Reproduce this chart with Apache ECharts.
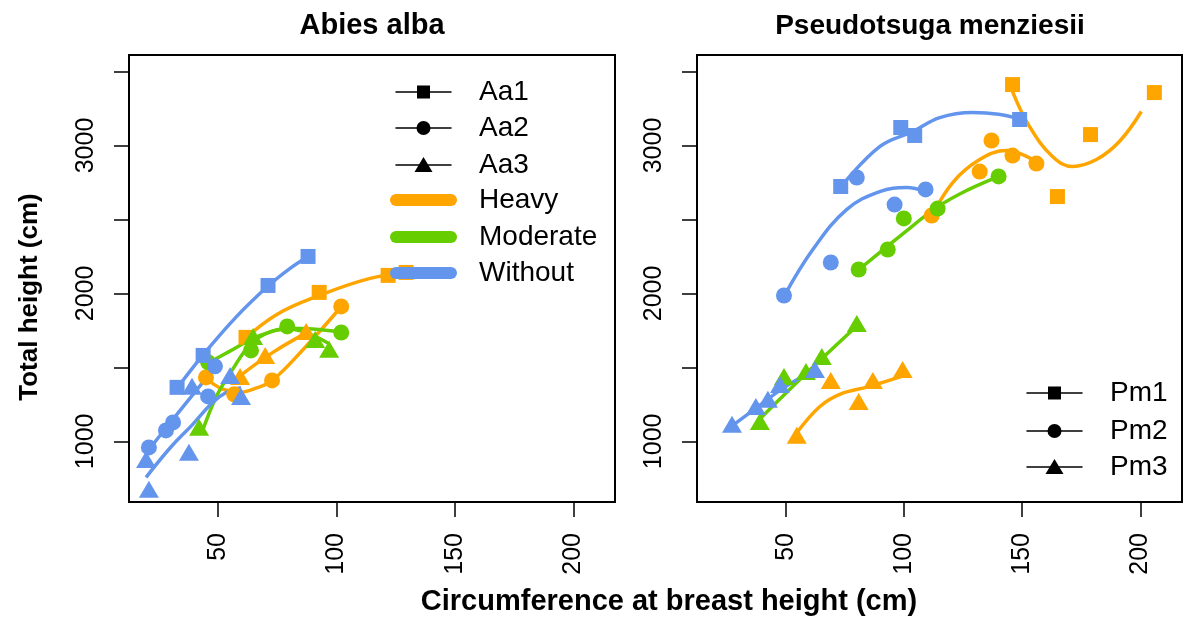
<!DOCTYPE html>
<html>
<head>
    <meta charset="utf-8">
    <script type="text/javascript" src="https://cdn.jsdelivr.net/npm/echarts@6/dist/echarts.min.js"></script>
    <style type="text/css">
        *{
            margin: 0;
            padding: 0;
        }
        #main{
            width: 1184px;
            height: 621px;
        }
    </style>
</head>
<body>
<div id="main"></div>
<script type="text/javascript">
    // tick positions
    var xTicks = [50, 100, 150, 200];
    var yTicks = [1000, 1500, 2000, 2500, 3000, 3500];
    var yLabels = [1000, 2000, 3000];

    // Abies alba : [circumference, height]
    var aaWithout1 = [[32.7, 1365], [43.7, 1581], [71.1, 2054], [88, 2250]];
    var aaWithout1Fit = [[32.7, 1360], [43.7, 1585], [57.6, 1840], [71.1, 2050], [80, 2165], [88, 2250]];
    var aaWithout2 = [[20.8, 959], [28, 1074], [31, 1128], [45.8, 1304], [48.7, 1507]];
    var aaWithout2Fit = [[20.8, 945], [34, 1210], [48.7, 1500]];
    var aaWithout3 = [[19.6, 878], [20.8, 676], [37.7, 926], [39, 1372], [55.1, 1446], [59.7, 1304]];
    var aaWithout3Fit = [[19.6, 757], [30, 960], [39, 1110], [47.5, 1260], [53.4, 1330], [59.7, 1362]];
    var aaHeavy1 = [[61.8, 1703], [92.7, 2007], [121.8, 2122], [129.4, 2142]];
    var aaHeavy1Fit = [[61, 1690], [75, 1860], [92.5, 1985], [113.8, 2100], [129.4, 2140]];
    var aaHeavy2 = [[44.9, 1432], [56.8, 1318], [72.8, 1412], [102, 1912]];
    var aaHeavy2Fit = [[44.9, 1425], [51.7, 1355], [58.9, 1332], [66, 1360], [72.8, 1410], [87, 1640], [102, 1910]];
    var aaHeavy3 = [[59.3, 1439], [69.9, 1581], [87.2, 1743]];
    var aaHeavy3Fit = [[59, 1440], [73, 1600], [88, 1740]];
    var aaModerate2 = [[45.8, 1534], [63.9, 1615], [79.2, 1777], [102, 1736]];
    var aaModerate2Fit = [[45.8, 1530], [55, 1610], [64, 1690], [72, 1740], [79.2, 1765], [90, 1760], [102, 1740]];
    var aaModerate3 = [[42, 1095], [64.8, 1709], [91, 1689], [96.9, 1622]];
    var aaModerate3Fit = [[43, 1050], [49.2, 1300], [55.9, 1480], [63.9, 1660], [72, 1740], [80, 1760], [88, 1730], [96.9, 1660]];

    // Pseudotsuga menziesii
    var pmWithout1 = [[73.2, 2723], [98.6, 3122], [104.5, 3068], [148.9, 3176]];
    var pmWithout1Fit = [[73.2, 2720], [89.7, 2993], [103.7, 3095], [115.1, 3189], [129, 3223], [140, 3212], [148.9, 3180]];
    var pmWithout2 = [[49.2, 1986], [69, 2209], [80, 2784], [96, 2601], [109.1, 2703]];
    var pmWithout2Fit = [[49.2, 1980], [61.4, 2297], [75.8, 2568], [89.7, 2689], [101.1, 2716], [109.1, 2689]];
    var pmWithout3 = [[27.2, 1115], [37.3, 1236], [42.4, 1284], [47.5, 1385], [62.3, 1486]];
    var pmWithout3Fit = [[27.2, 1105], [37, 1220], [47, 1340], [55, 1420], [62, 1475]];
    var pmHeavy1 = [[145.9, 3412], [164.9, 2655], [178.9, 3074], [205.9, 3358]];
    var pmHeavy1Fit = [[145.9, 3365], [153.1, 3128], [162.8, 2926], [171.3, 2858], [181.4, 2905], [191.1, 3027], [200.4, 3230]];
    var pmHeavy2 = [[111.7, 2527], [132, 2824], [137, 3034], [145.9, 2932], [156, 2878]];
    var pmHeavy2Fit = [[111.7, 2520], [120.6, 2750], [132, 2905], [143.4, 2966], [156, 2890]];
    var pmHeavy3 = [[54.6, 1041], [69, 1412], [80.8, 1270], [86.8, 1412], [99.4, 1486]];
    var pmHeavy3Fit = [[55.1, 1068], [64.4, 1236], [72.8, 1318], [85.5, 1372], [99, 1439]];
    var pmModerate2 = [[80.8, 2162], [93.1, 2297], [99.9, 2507], [114.2, 2574], [140, 2791]];
    var pmModerate2Fit = [[80.8, 2160], [100, 2410], [114.2, 2585], [127, 2700], [140, 2790]];
    var pmModerate3 = [[39, 1135], [49.2, 1439], [58.5, 1473], [65.2, 1574], [80, 1797]];
    var pmModerate3Fit = [[39.5, 1160], [60, 1480], [80, 1780]];

    var HEAVY = '#FFA500', MODERATE = '#66CD00', WITHOUT = '#6495ED';
    var FONT = '"Liberation Sans", Arial, Helvetica, sans-serif';

    function plain(v) {
        return String(v);
    }
    function xAx(gi) {
        return {
            type: 'value', gridIndex: gi, min: 12.4, max: 217.6,
            splitLine: {show: false},
            axisLine: {show: false},
            axisTick: {show: true, length: 15, lineStyle: {color: '#000', width: 1.5}, customValues: xTicks},
            axisLabel: {rotate: 90, margin: 31, fontSize: 25, color: '#000', fontFamily: FONT, customValues: xTicks, formatter: plain}
        };
    }
    function yAx(gi) {
        return {
            type: 'value', gridIndex: gi, min: 590, max: 3612,
            splitLine: {show: false},
            axisLine: {show: false},
            axisTick: {show: true, length: 15, lineStyle: {color: '#000', width: 1.5}, customValues: yTicks},
            axisLabel: {rotate: 90, margin: 30, fontSize: 25, color: '#000', fontFamily: FONT, customValues: yLabels, formatter: plain}
        };
    }

    var symSize = {rect: [15, 15], circle: 16, triangle: [20, 17]};
    function pts(data, color, sym, gi) {
        return {
            type: 'scatter', xAxisIndex: gi, yAxisIndex: gi, data: data,
            symbol: sym, symbolSize: symSize[sym],
            itemStyle: {color: color, opacity: 1}, z: 3, silent: true
        };
    }
    function fit(data, color, gi) {
        return {
            type: 'line', xAxisIndex: gi, yAxisIndex: gi, data: data,
            smooth: 0.4, symbol: 'none', showSymbol: false,
            lineStyle: {color: color, width: 3.5}, z: 2, silent: true
        };
    }

    var series = [
        fit(aaHeavy1Fit, HEAVY, 0), pts(aaHeavy1, HEAVY, 'rect', 0),
        fit(aaHeavy2Fit, HEAVY, 0), pts(aaHeavy2, HEAVY, 'circle', 0),
        fit(aaHeavy3Fit, HEAVY, 0), pts(aaHeavy3, HEAVY, 'triangle', 0),
        fit(aaModerate2Fit, MODERATE, 0), pts(aaModerate2, MODERATE, 'circle', 0),
        fit(aaModerate3Fit, MODERATE, 0), pts(aaModerate3, MODERATE, 'triangle', 0),
        fit(aaWithout1Fit, WITHOUT, 0), pts(aaWithout1, WITHOUT, 'rect', 0),
        fit(aaWithout2Fit, WITHOUT, 0), pts(aaWithout2, WITHOUT, 'circle', 0),
        fit(aaWithout3Fit, WITHOUT, 0), pts(aaWithout3, WITHOUT, 'triangle', 0),

        fit(pmHeavy1Fit, HEAVY, 1), pts(pmHeavy1, HEAVY, 'rect', 1),
        fit(pmHeavy2Fit, HEAVY, 1), pts(pmHeavy2, HEAVY, 'circle', 1),
        fit(pmHeavy3Fit, HEAVY, 1), pts(pmHeavy3, HEAVY, 'triangle', 1),
        fit(pmModerate2Fit, MODERATE, 1), pts(pmModerate2, MODERATE, 'circle', 1),
        fit(pmModerate3Fit, MODERATE, 1), pts(pmModerate3, MODERATE, 'triangle', 1),
        fit(pmWithout1Fit, WITHOUT, 1), pts(pmWithout1, WITHOUT, 'rect', 1),
        fit(pmWithout2Fit, WITHOUT, 1), pts(pmWithout2, WITHOUT, 'circle', 1),
        fit(pmWithout3Fit, WITHOUT, 1), pts(pmWithout3, WITHOUT, 'triangle', 1)
    ];

    // legends drawn by hand (R style)
    function txt(x, y, s, font, rot, align) {
        return {
            type: 'text', x: x, y: y, rotation: rot || 0, z: 10,
            style: {text: s, font: font, fill: '#000', align: align || 'left', verticalAlign: 'middle',
                textAlign: align || 'left', textVerticalAlign: 'middle'}
        };
    }
    function keyLine(x1, x2, y, color, w) {
        return {type: 'line', z: 10, shape: {x1: x1, y1: y, x2: x2, y2: y},
            style: {stroke: color, lineWidth: w, lineCap: 'round'}};
    }
    function keyMark(sym, cx, cy) {
        if (sym === 'rect') return {type: 'rect', z: 11, shape: {x: cx - 6.5, y: cy - 6.5, width: 13, height: 13}, style: {fill: '#000'}};
        if (sym === 'circle') return {type: 'circle', z: 11, shape: {cx: cx, cy: cy, r: 7}, style: {fill: '#000'}};
        return {type: 'polygon', z: 11, shape: {points: [[cx, cy - 8], [cx - 9, cy + 7], [cx + 9, cy + 7]]}, style: {fill: '#000'}};
    }
    var graphics = [
        txt(372, 26, 'Abies alba', 'bold 29px ' + FONT, 0, 'center'),
        txt(930, 26, 'Pseudotsuga menziesii', 'bold 28px ' + FONT, 0, 'center'),
        txt(669, 602, 'Circumference at breast height (cm)', 'bold 29px ' + FONT, 0, 'center'),
        txt(30, 297, 'Total height (cm)', 'bold 26px ' + FONT, Math.PI / 2, 'center')
    ];
    var leftKeys = [['Aa1', 'rect'], ['Aa2', 'circle'], ['Aa3', 'triangle']];
    var leftRows = [92, 128, 165, 200, 237, 273];
    leftKeys.forEach(function (k, i) {
        graphics.push(keyLine(396, 451, leftRows[i], '#000', 1.5));
        graphics.push(keyMark(k[1], 423.5, leftRows[i]));
        graphics.push(txt(479, leftRows[i], k[0], '28px ' + FONT));
    });
    [['Heavy', HEAVY], ['Moderate', MODERATE], ['Without', WITHOUT]].forEach(function (k, i) {
        graphics.push(keyLine(396, 451, leftRows[i + 3], k[1], 12));
        graphics.push(txt(479, leftRows[i + 3], k[0], '28px ' + FONT));
    });
    var rightRows = [393, 431, 467];
    [['Pm1', 'rect'], ['Pm2', 'circle'], ['Pm3', 'triangle']].forEach(function (k, i) {
        graphics.push(keyLine(1027, 1082, rightRows[i], '#000', 1.5));
        graphics.push(keyMark(k[1], 1054.5, rightRows[i]));
        graphics.push(txt(1110, rightRows[i], k[0], '28px ' + FONT));
    });

    var myChart = echarts.init(document.getElementById('main'));
    var option = {
        backgroundColor: '#fff',
        animation: false,
        grid: [
            {left: 129, top: 55, width: 486, height: 447, show: true, borderColor: '#000', borderWidth: 2, backgroundColor: 'transparent'},
            {left: 697, top: 55, width: 485, height: 447, show: true, borderColor: '#000', borderWidth: 2, backgroundColor: 'transparent'}
        ],
        xAxis: [xAx(0), xAx(1)],
        yAxis: [yAx(0), yAx(1)],
        series: series,
        graphic: graphics
    };
    myChart.setOption(option);
</script>
</body>
</html>
